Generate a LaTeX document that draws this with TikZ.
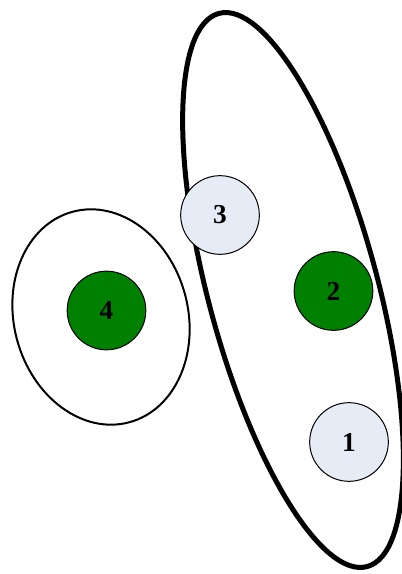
\documentclass[tikz,border=0pt]{standalone}
\usepackage{fontspec}
\setmainfont{Liberation Serif}
\usetikzlibrary{shapes.geometric}
\definecolor{lightnode}{HTML}{E6ECF6}
\definecolor{greennode}{HTML}{008000}
\tikzset{
  member/.style={circle, draw=black, line width=0.75pt, inner sep=0pt, minimum size=59pt,
    font=\fontsize{20.5}{20.5}\selectfont\bfseries},
  lightmember/.style={member, fill=lightnode},
  greenmember/.style={member, fill=greennode},
  bigset/.style={ellipse, draw=black, line width=3.75pt, inner sep=0pt},
  smallset/.style={ellipse, draw=black, line width=1.5pt, inner sep=0pt}
}
\begin{document}
\begin{tikzpicture}[x=0.75pt, y=-0.75pt]
\useasboundingbox (0,0) rectangle (401,574);
\node[bigset, minimum width=127pt, minimum height=429.5pt, rotate=15] (setA) at (293,290) {};
\node[smallset, minimum width=130.5pt, minimum height=163.5pt, rotate=15] (setB) at (101,317) {};
\node[lightmember] (n3) at (220,215) {3};
\node[greenmember] (n2) at (333.5,291) {2};
\node[lightmember] (n1) at (349,442) {1};
\node[greenmember] (n4) at (106.5,310.5) {4};
\end{tikzpicture}
\end{document}
